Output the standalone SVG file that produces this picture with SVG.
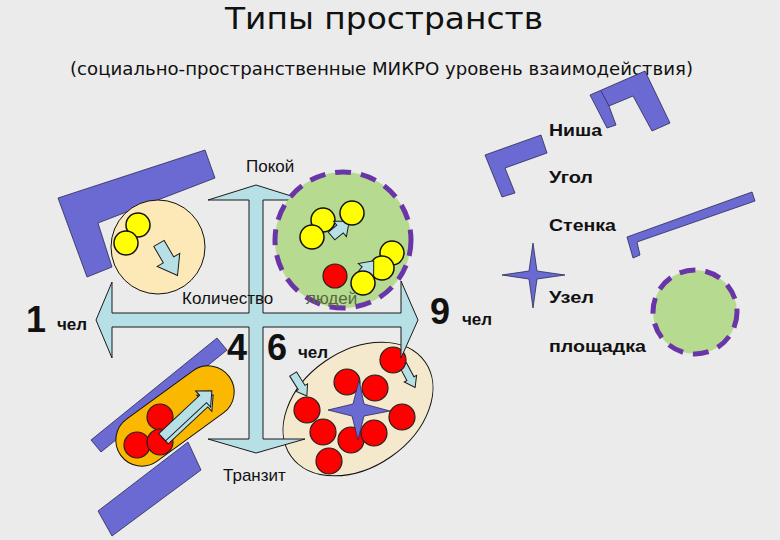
<svg xmlns="http://www.w3.org/2000/svg" width="780" height="540" viewBox="0 0 780 540">
<style>
.blue{fill:#6a6ad2;stroke:#2a2a55;stroke-width:0.8}
.lb{fill:#b6dfe6;stroke:#1a1a1a;stroke-width:1}
.yel{fill:#ffff00;stroke:#111;stroke-width:1.5}
.red{fill:#ff0000;stroke:#222;stroke-width:1.2}
.lbl{font-family:"Liberation Sans",Arial,sans-serif;font-size:17px;fill:#111}
.b{font-weight:bold}
.big{font-family:"Liberation Sans",Arial,sans-serif;font-weight:bold;font-size:36px;fill:#111}
.ttl{font-family:"DejaVu Sans","Liberation Sans",sans-serif;fill:#111}
.dash{fill:#b7da91;stroke:#6a35a8;stroke-width:5;stroke-dasharray:16 10}
</style>
<defs>
<path id="arrS" d="M-11,-5 H0 V-10 L12,0 L0,10 V5 H-11 Z"/>
<path id="arrT" d="M-13,-4 H3 V-7 L13,0 L3,7 V4 H-13 Z"/>
</defs>
<rect width="780" height="540" fill="#ebebeb"/>
<text class="ttl" x="225" y="29" font-size="31" textLength="318" lengthAdjust="spacingAndGlyphs">Типы пространств</text>
<text class="ttl" x="70" y="75" font-size="18" textLength="623" lengthAdjust="spacingAndGlyphs">(социально-пространственные МИКРО уровень взаимодействия)</text>

<g id="legend-niche">
<polygon class="blue" points="590,95 645,71 670,123 652,131 633,96 609,106 616,125 607,128"/>
<line x1="601" y1="91" x2="609" y2="106" stroke="#2a2a55" stroke-width="0.8"/>
<text class="lbl b" x="549" y="136" font-size="18" textLength="53" lengthAdjust="spacingAndGlyphs">Ниша</text>
</g>
<g id="legend-corner">
<polygon class="blue" points="485,155 541,135 547,153 505,168 515,193 502,197"/>
<text class="lbl b" x="549" y="183" font-size="18" textLength="44" lengthAdjust="spacingAndGlyphs">Угол</text>
</g>
<g id="legend-wall">
<polygon class="blue" points="627,237 752,192 755,201 637,242 640,255 633,258"/>
<text class="lbl b" x="549" y="231" font-size="18" textLength="67" lengthAdjust="spacingAndGlyphs">Стенка</text>
</g>
<g id="legend-node">
<path class="blue" d="M502,275 L529,271 L533,243 L537,271 L565,275 L537,279 L533,308 L529,279 Z"/>
<text class="lbl b" x="549" y="303" font-size="18" textLength="45" lengthAdjust="spacingAndGlyphs">Узел</text>
</g>
<g id="legend-square">
<circle class="dash" cx="695" cy="312" r="42" stroke-dasharray="18 10"/>
<text class="lbl b" x="549" y="352" font-size="18" textLength="97" lengthAdjust="spacingAndGlyphs">площадка</text>
</g>

<g id="node-crowd">
<ellipse cx="358" cy="409" rx="82" ry="58" transform="rotate(-35 358 409)" fill="#f5e9cd" stroke="#111" stroke-width="1"/>
<use href="#arrT" class="lb" transform="translate(300,385) rotate(58)"/>
<use href="#arrT" class="lb" transform="translate(409,376) rotate(62)"/>
<circle class="red" cx="393" cy="360" r="13"/>
<circle class="red" cx="347" cy="382" r="13"/>
<circle class="red" cx="375" cy="388" r="13"/>
<circle class="red" cx="307" cy="410" r="13"/>
<circle class="red" cx="402" cy="417" r="13"/>
<circle class="red" cx="323" cy="432" r="13"/>
<circle class="red" cx="351" cy="440" r="13"/>
<circle class="red" cx="374" cy="433" r="13"/>
<circle class="red" cx="329" cy="461" r="13"/>
<path class="blue" d="M328,410 L353,404 L359,380 L364,404 L390,411 L364,416 L358,440 L352,416 Z"/>
</g>

<g id="connectors">
<polygon class="lb" points="256,185 304,200 263,200 263,313 401,313 401,281 418,320 401,358 401,327 263,327 263,439 305,439 256,453 208,439 249,439 249,327 112,327 112,358 96,320 112,282 112,313 249,313 249,200 208,200"/>
</g>

<g id="node-calm">
<polygon class="blue" points="58,198 205,150 215,178 98,223 112,267 87,277"/>
<circle cx="158" cy="247" r="47" fill="#fde9b8" stroke="#111" stroke-width="1"/>
<circle class="yel" cx="138" cy="225" r="12"/>
<circle class="yel" cx="126" cy="243" r="12"/>
<path class="lb" d="M-18,-6 H1 V-13 L19,0 L1,13 V6 H-18 Z" transform="translate(168,259) rotate(60)"/>
</g>

<g id="node-rest">
<circle class="dash" cx="343" cy="240" r="68"/>
<circle class="yel" cx="323" cy="220" r="12"/>
<circle class="yel" cx="312" cy="237" r="12"/>
<use href="#arrS" class="lb" transform="translate(340,229) rotate(-40)"/>
<circle class="yel" cx="352" cy="213" r="12"/>
<circle class="yel" cx="392" cy="253" r="12"/>
<circle class="yel" cx="382" cy="268" r="12"/>
<circle class="red" cx="335" cy="276" r="12"/>
<use href="#arrS" class="lb" transform="translate(366,270) rotate(-50)"/>
<circle class="yel" cx="363" cy="283" r="12"/>
</g>

<g id="node-transit">
<polygon class="blue" points="91,440 217,338 227,350 101,452"/>
<polygon class="blue" points="98,511 188,442 201,470 112,536"/>
<rect x="108" y="390" width="134" height="52" rx="26" transform="rotate(-36 175 416)" fill="#fbb800" stroke="#111" stroke-width="1"/>
<circle class="red" cx="160" cy="417" r="13"/>
<circle class="red" cx="137" cy="445" r="13"/>
<circle class="red" cx="160" cy="442" r="13"/>
<path class="lb" d="M-34,-1 H20 V-7 L32,4 L20,15 V9 H-34 Z" transform="translate(187,414) rotate(-43)"/>
<path class="lb" d="M-34,-5 H22 V-11 L34,0 L22,11 V5 H-34 Z" transform="translate(187,414) rotate(-43)"/>
</g>

<g id="labels">
<text class="lbl" x="246" y="172">Покой</text>
<text class="lbl" x="182" y="304">Количество</text>
<text class="lbl" x="306" y="304" style="fill:#55693c">людей</text>
<text class="lbl" x="223" y="481">Транзит</text>
<text class="big" x="26" y="332">1</text>
<text class="lbl b" x="57" y="330" font-size="18">чел</text>
<text class="big" x="227" y="360" font-size="34">4</text>
<text class="big" x="267" y="360" font-size="34">6</text>
<text class="lbl b" x="298" y="358" font-size="18">чел</text>
<text class="big" x="430" y="324">9</text>
<text class="lbl b" x="462" y="325" font-size="18">чел</text>
</g>
</svg>
